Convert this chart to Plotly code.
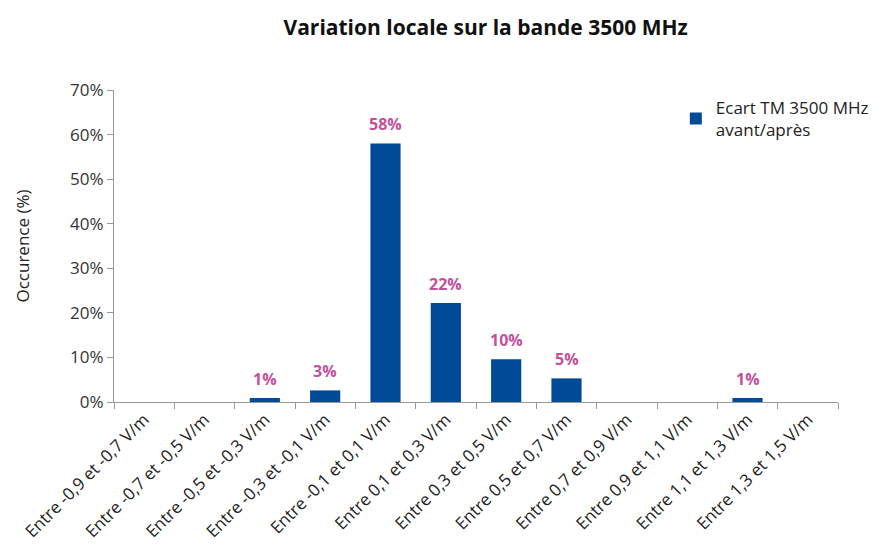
import plotly.graph_objects as go

categories = [
    "Entre -0,9 et -0,7 V/m", "Entre -0,7 et -0,5 V/m", "Entre -0,5 et -0,3 V/m",
    "Entre -0,3 et -0,1 V/m", "Entre -0,1 et 0,1 V/m", "Entre 0,1 et 0,3 V/m",
    "Entre 0,3 et 0,5 V/m", "Entre 0,5 et 0,7 V/m", "Entre 0,7 et 0,9 V/m",
    "Entre 0,9 et 1,1 V/m", "Entre 1,1 et 1,3 V/m", "Entre 1,3 et 1,5 V/m",
]
occurrence = [0.0, 0.0, 0.009, 0.026, 0.580, 0.222, 0.096, 0.053, 0.0, 0.0, 0.009, 0.0]

FONT = "'Open Sans', sans-serif"
BAR = "#004A98"
LABEL = "#C4509C"

fig = go.Figure(
    go.Bar(
        x=categories,
        y=occurrence,
        marker=dict(color=BAR, line=dict(width=0)),
        name="Ecart TM 3500 MHz<br>avant/après",
        showlegend=True,
    )
)

# value labels above the non-empty bars
for cat, v in zip(categories, occurrence):
    if v > 0:
        fig.add_annotation(
            x=cat, y=v, text=f"<b>{round(v * 100):.0f}%</b>",
            showarrow=False, yanchor="bottom", yshift=6,
            font=dict(family=FONT, size=16, color=LABEL),
        )

fig.update_layout(
    width=883,
    height=550,
    margin=dict(l=114, r=45, t=90, b=148, autoexpand=False),
    paper_bgcolor="white",
    plot_bgcolor="white",
    bargap=0.5,
    title=dict(
        text="<b>Variation locale sur la bande 3500 MHz</b>",
        x=0.55, xanchor="center", y=0.95, yanchor="middle",
        font=dict(family=FONT, size=21, color="#111"),
    ),
    legend=dict(
        x=0.776, xanchor="left", y=1.0, yanchor="top",
        font=dict(family=FONT, size=17, color="#222"),
        bgcolor="rgba(0,0,0,0)",
        itemwidth=30,
    ),
    font=dict(family=FONT, size=17, color="#333"),
)

fig.update_xaxes(
    automargin=False,
    showline=True, linecolor="#999", linewidth=1,
    ticks="outside", tickson="boundaries", ticklen=6, tickcolor="#999",
    tickangle=-45,
    tickfont=dict(family=FONT, size=17, color="#222"),
    showgrid=False,
)
fig.update_yaxes(
    automargin=False,
    range=[0, 0.7], dtick=0.1, tickformat=".0%",
    showline=True, linecolor="#999", linewidth=1,
    ticks="outside", ticklen=6, tickcolor="#999",
    showgrid=False, zeroline=False,
    title=dict(text="Occurence (%)", font=dict(family=FONT, size=17, color="#222"), standoff=36),
    tickfont=dict(family=FONT, size=17, color="#333"),
)

fig.write_html("out.html")
